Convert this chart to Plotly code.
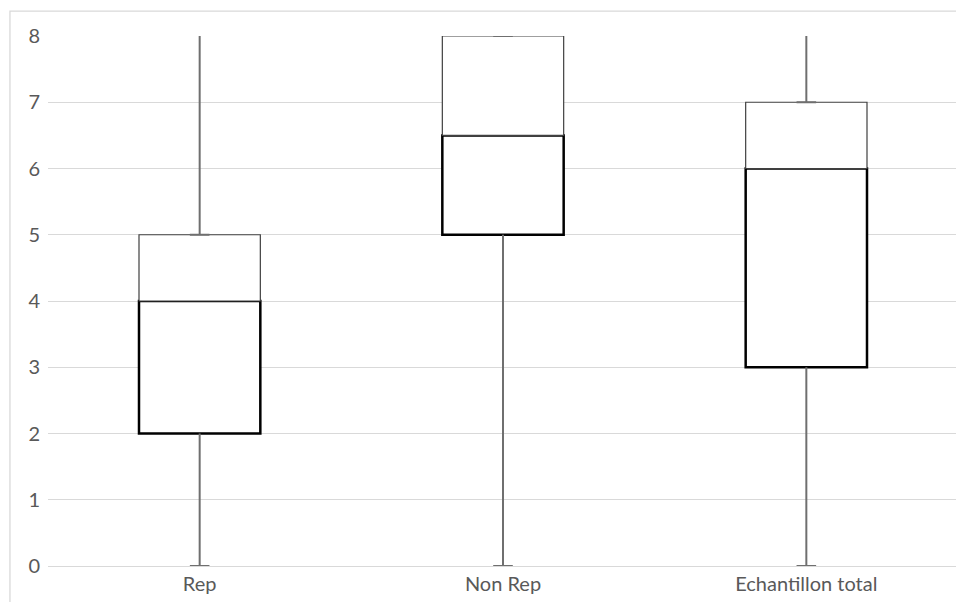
import plotly.graph_objects as go

categories = ["Rep", "Non Rep", "Echantillon total"]
mins = [0, 0, 0]
q1 = [2, 5, 3]
medians = [4, 6.5, 6]
q3 = [5, 8, 7]
maxs = [8, 8, 8]
y_ticks = [0, 1, 2, 3, 4, 5, 6, 7, 8]

fig = go.Figure()

whisker_color = "#6f6f6f"
# lower box (Q1 -> median)
fig.add_trace(go.Bar(x=categories, y=[m - a for m, a in zip(medians, q1)], base=q1, width=0.4,
                     marker=dict(color="white", line=dict(color="black", width=2.5)), showlegend=False))
# upper box (median -> Q3)
fig.add_trace(go.Bar(x=categories, y=[b - m for b, m in zip(q3, medians)], base=medians, width=0.4,
                     marker=dict(color="white", line=dict(color="#404040", width=1.2)), showlegend=False))

# whiskers
for c, lo, a, b, hi in zip(categories, mins, q1, q3, maxs):
    fig.add_trace(go.Scatter(x=[c, c], y=[lo, a], mode="lines",
                             line=dict(color=whisker_color, width=2), showlegend=False, hoverinfo="skip"))
    fig.add_trace(go.Scatter(x=[c, c], y=[b, hi], mode="lines",
                             line=dict(color=whisker_color, width=2), showlegend=False, hoverinfo="skip"))
# caps
fig.add_trace(go.Scatter(x=categories + categories, y=mins + q3, mode="markers",
                         marker=dict(symbol="line-ew", size=14, line=dict(color=whisker_color, width=2)),
                         showlegend=False, hoverinfo="skip"))

fig.update_layout(
    width=956, height=594,
    margin=dict(l=40, r=6, t=28, b=36),
    paper_bgcolor="white", plot_bgcolor="white",
    barmode="overlay",
    font=dict(family="Lato, Open Sans, sans-serif", size=20, color="#595959"),
    xaxis=dict(showgrid=False, showline=False, ticks="", tickfont=dict(size=20), ticklabelstandoff=4),
    yaxis=dict(range=[0, 8], tickvals=y_ticks, showgrid=True, gridcolor="#d9d9d9", gridwidth=1.3,
               zeroline=True, zerolinecolor="#d9d9d9", zerolinewidth=1.3, ticks="", ticklabelstandoff=7),
    shapes=[dict(type="rect", xref="paper", yref="paper", x0=-0.0418, x1=1.02, y0=-0.1, y1=1.047,
                 line=dict(color="#d9d9d9", width=1.3), layer="below")],
)

fig.write_html("out.html")
